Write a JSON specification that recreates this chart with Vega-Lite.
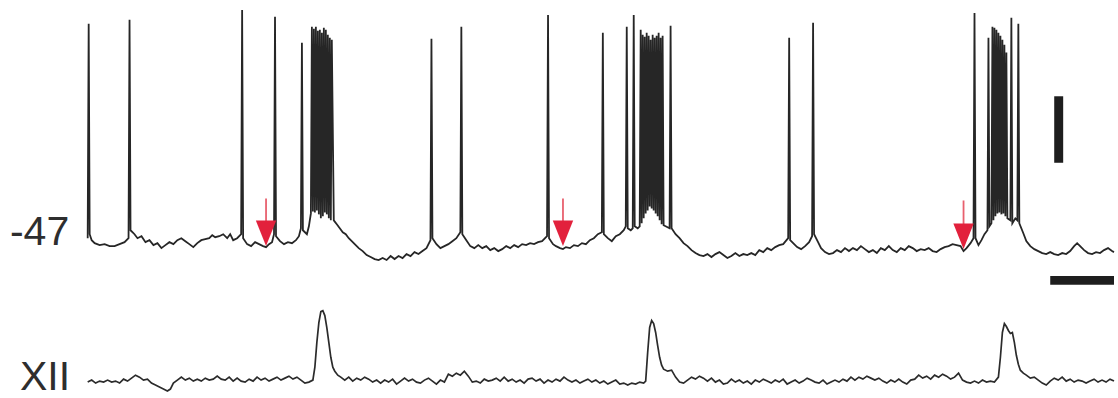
{
"$schema": "https://vega.github.io/schema/vega-lite/v6.json",
"width": 1118, "height": 398, "padding": 0,
"autosize": {"type": "fit", "contains": "padding"},
"background": "white",
"config": {"view": {"stroke": null}},
"datasets": {
"top": [
{"x":88,"y":240},{"x":89,"y":24},{"x":90,"y":236},{"x":92,"y":242},{"x":95,"y":245},{"x":100,"y":247},{"x":105,"y":246},{"x":110,"y":248},{"x":115,"y":248},{"x":120,"y":246},{"x":125,"y":244},{"x":129,"y":240},{"x":130,"y":20},{"x":131,"y":232},{"x":135,"y":236},{"x":138,"y":240},{"x":142,"y":238},{"x":146,"y":244},{"x":150,"y":242},{"x":154,"y":247},{"x":158,"y":245},{"x":162,"y":250},{"x":166,"y":247},{"x":170,"y":244},{"x":174,"y":246},{"x":178,"y":242},{"x":182,"y":240},{"x":186,"y":243},{"x":190,"y":246},{"x":194,"y":249},{"x":198,"y":245},{"x":202,"y":242},{"x":206,"y":241},{"x":210,"y":240},{"x":213,"y":237},{"x":216,"y":239},{"x":220,"y":238},{"x":224,"y":236},{"x":228,"y":240},{"x":231,"y":236},{"x":234,"y":242},{"x":238,"y":240},{"x":242,"y":236},{"x":243,"y":10},{"x":244,"y":240},{"x":248,"y":246},{"x":252,"y":248},{"x":256,"y":244},{"x":260,"y":246},{"x":264,"y":248},{"x":267,"y":249},{"x":270,"y":246},{"x":273,"y":244},{"x":275,"y":236},{"x":276,"y":17},{"x":277,"y":238},{"x":281,"y":243},{"x":285,"y":246},{"x":289,"y":244},{"x":293,"y":245},{"x":297,"y":242},{"x":300,"y":238},{"x":302,"y":230},{"x":303,"y":43},{"x":304,"y":232},{"x":308,"y":236},{"x":310,"y":228},{"x":312,"y":215},{"x":313,"y":27},{"x":314,"y":213},{"x":315,"y":29},{"x":316,"y":214},{"x":317,"y":27},{"x":318,"y":212},{"x":319,"y":31},{"x":320,"y":216},{"x":321,"y":30},{"x":322,"y":220},{"x":323,"y":33},{"x":324,"y":218},{"x":325,"y":28},{"x":326,"y":214},{"x":327,"y":30},{"x":328,"y":216},{"x":329,"y":35},{"x":330,"y":220},{"x":331,"y":38},{"x":332,"y":222},{"x":333,"y":40},{"x":335,"y":222},{"x":338,"y":226},{"x":341,"y":230},{"x":344,"y":234},{"x":347,"y":236},{"x":350,"y":240},{"x":353,"y":243},{"x":356,"y":246},{"x":360,"y":250},{"x":364,"y":253},{"x":368,"y":257},{"x":372,"y":259},{"x":376,"y":261},{"x":380,"y":262},{"x":384,"y":260},{"x":388,"y":262},{"x":392,"y":258},{"x":396,"y":261},{"x":400,"y":258},{"x":404,"y":260},{"x":408,"y":256},{"x":412,"y":258},{"x":416,"y":254},{"x":420,"y":256},{"x":424,"y":253},{"x":428,"y":250},{"x":432,"y":242},{"x":433,"y":39},{"x":434,"y":240},{"x":438,"y":246},{"x":442,"y":250},{"x":446,"y":248},{"x":450,"y":246},{"x":454,"y":243},{"x":458,"y":240},{"x":462,"y":234},{"x":463,"y":27},{"x":464,"y":236},{"x":468,"y":242},{"x":472,"y":248},{"x":476,"y":250},{"x":480,"y":247},{"x":484,"y":250},{"x":488,"y":248},{"x":492,"y":252},{"x":496,"y":250},{"x":500,"y":253},{"x":504,"y":251},{"x":508,"y":248},{"x":512,"y":250},{"x":516,"y":247},{"x":520,"y":249},{"x":524,"y":246},{"x":528,"y":247},{"x":532,"y":245},{"x":536,"y":246},{"x":540,"y":244},{"x":544,"y":243},{"x":549,"y":238},{"x":550,"y":15},{"x":551,"y":240},{"x":555,"y":246},{"x":558,"y":248},{"x":562,"y":250},{"x":565,"y":251},{"x":568,"y":249},{"x":572,"y":250},{"x":576,"y":247},{"x":580,"y":248},{"x":584,"y":245},{"x":588,"y":246},{"x":592,"y":242},{"x":596,"y":240},{"x":600,"y":236},{"x":604,"y":234},{"x":605,"y":33},{"x":606,"y":236},{"x":610,"y":240},{"x":614,"y":243},{"x":618,"y":238},{"x":622,"y":236},{"x":626,"y":232},{"x":628,"y":228},{"x":629,"y":27},{"x":630,"y":230},{"x":633,"y":232},{"x":635,"y":230},{"x":636,"y":15},{"x":637,"y":228},{"x":640,"y":230},{"x":642,"y":228},{"x":643,"y":30},{"x":644,"y":225},{"x":645,"y":35},{"x":646,"y":220},{"x":647,"y":37},{"x":648,"y":215},{"x":649,"y":33},{"x":650,"y":212},{"x":651,"y":36},{"x":652,"y":208},{"x":653,"y":40},{"x":654,"y":210},{"x":655,"y":35},{"x":656,"y":212},{"x":657,"y":38},{"x":658,"y":215},{"x":659,"y":36},{"x":660,"y":218},{"x":661,"y":33},{"x":662,"y":222},{"x":663,"y":38},{"x":664,"y":226},{"x":665,"y":36},{"x":666,"y":227},{"x":668,"y":228},{"x":672,"y":230},{"x":673,"y":26},{"x":674,"y":230},{"x":678,"y":236},{"x":682,"y":240},{"x":686,"y":245},{"x":690,"y":248},{"x":694,"y":252},{"x":698,"y":255},{"x":702,"y":257},{"x":706,"y":258},{"x":710,"y":256},{"x":714,"y":259},{"x":718,"y":256},{"x":722,"y":254},{"x":726,"y":257},{"x":730,"y":260},{"x":734,"y":258},{"x":738,"y":255},{"x":742,"y":258},{"x":746,"y":256},{"x":750,"y":257},{"x":754,"y":255},{"x":758,"y":257},{"x":762,"y":252},{"x":766,"y":254},{"x":770,"y":250},{"x":774,"y":252},{"x":778,"y":249},{"x":782,"y":247},{"x":786,"y":246},{"x":791,"y":240},{"x":792,"y":38},{"x":793,"y":242},{"x":797,"y":246},{"x":800,"y":249},{"x":804,"y":251},{"x":808,"y":248},{"x":812,"y":244},{"x":815,"y":238},{"x":816,"y":23},{"x":817,"y":236},{"x":821,"y":244},{"x":824,"y":250},{"x":828,"y":254},{"x":832,"y":256},{"x":836,"y":255},{"x":840,"y":252},{"x":844,"y":254},{"x":848,"y":250},{"x":852,"y":253},{"x":856,"y":250},{"x":860,"y":252},{"x":864,"y":248},{"x":868,"y":251},{"x":872,"y":254},{"x":876,"y":252},{"x":880,"y":255},{"x":884,"y":250},{"x":888,"y":252},{"x":892,"y":248},{"x":896,"y":252},{"x":900,"y":254},{"x":904,"y":250},{"x":908,"y":252},{"x":912,"y":248},{"x":916,"y":250},{"x":920,"y":253},{"x":924,"y":251},{"x":928,"y":252},{"x":932,"y":250},{"x":936,"y":253},{"x":940,"y":254},{"x":944,"y":251},{"x":948,"y":249},{"x":952,"y":248},{"x":956,"y":246},{"x":960,"y":247},{"x":964,"y":248},{"x":967,"y":253},{"x":970,"y":250},{"x":974,"y":245},{"x":977,"y":240},{"x":978,"y":13},{"x":979,"y":240},{"x":982,"y":247},{"x":985,"y":242},{"x":988,"y":236},{"x":991,"y":232},{"x":992,"y":38},{"x":993,"y":228},{"x":995,"y":225},{"x":996,"y":27},{"x":997,"y":222},{"x":998,"y":28},{"x":999,"y":218},{"x":1000,"y":30},{"x":1001,"y":215},{"x":1002,"y":33},{"x":1003,"y":214},{"x":1004,"y":36},{"x":1005,"y":216},{"x":1006,"y":40},{"x":1007,"y":215},{"x":1008,"y":45},{"x":1009,"y":218},{"x":1010,"y":53},{"x":1011,"y":220},{"x":1014,"y":222},{"x":1015,"y":18},{"x":1016,"y":225},{"x":1019,"y":220},{"x":1021,"y":222},{"x":1022,"y":24},{"x":1023,"y":225},{"x":1027,"y":235},{"x":1030,"y":243},{"x":1034,"y":248},{"x":1038,"y":251},{"x":1042,"y":253},{"x":1046,"y":255},{"x":1050,"y":256},{"x":1054,"y":254},{"x":1058,"y":256},{"x":1062,"y":257},{"x":1066,"y":255},{"x":1070,"y":256},{"x":1074,"y":253},{"x":1078,"y":248},{"x":1081,"y":245},{"x":1084,"y":248},{"x":1088,"y":252},{"x":1092,"y":255},{"x":1096,"y":256},{"x":1100,"y":254},{"x":1104,"y":255},{"x":1108,"y":252},{"x":1112,"y":250},{"x":1116,"y":253},{"x":1118,"y":254}
],
"bottom": [
{"x":88,"y":385},{"x":92,"y":383},{"x":96,"y":386},{"x":100,"y":384},{"x":104,"y":385},{"x":108,"y":383},{"x":112,"y":385},{"x":116,"y":384},{"x":120,"y":386},{"x":124,"y":382},{"x":128,"y":384},{"x":132,"y":381},{"x":136,"y":378},{"x":140,"y":380},{"x":144,"y":383},{"x":148,"y":382},{"x":152,"y":386},{"x":156,"y":388},{"x":160,"y":390},{"x":164,"y":392},{"x":168,"y":394},{"x":171,"y":392},{"x":174,"y":386},{"x":178,"y":383},{"x":182,"y":380},{"x":186,"y":383},{"x":190,"y":381},{"x":194,"y":384},{"x":198,"y":382},{"x":202,"y":384},{"x":206,"y":381},{"x":210,"y":383},{"x":214,"y":382},{"x":218,"y":379},{"x":222,"y":382},{"x":226,"y":383},{"x":230,"y":380},{"x":234,"y":384},{"x":238,"y":381},{"x":242,"y":384},{"x":246,"y":385},{"x":250,"y":382},{"x":254,"y":384},{"x":258,"y":380},{"x":262,"y":383},{"x":266,"y":381},{"x":270,"y":384},{"x":274,"y":382},{"x":278,"y":380},{"x":282,"y":383},{"x":286,"y":381},{"x":290,"y":379},{"x":294,"y":382},{"x":298,"y":380},{"x":302,"y":383},{"x":306,"y":386},{"x":310,"y":385},{"x":314,"y":383},{"x":316,"y":370},{"x":318,"y":345},{"x":320,"y":325},{"x":322,"y":314},{"x":324,"y":313},{"x":326,"y":318},{"x":328,"y":330},{"x":330,"y":345},{"x":332,"y":360},{"x":334,"y":370},{"x":336,"y":374},{"x":339,"y":378},{"x":342,"y":380},{"x":346,"y":383},{"x":350,"y":380},{"x":354,"y":384},{"x":358,"y":381},{"x":362,"y":383},{"x":366,"y":380},{"x":370,"y":382},{"x":374,"y":385},{"x":378,"y":383},{"x":382,"y":386},{"x":386,"y":383},{"x":390,"y":385},{"x":394,"y":382},{"x":398,"y":387},{"x":402,"y":384},{"x":406,"y":381},{"x":410,"y":384},{"x":414,"y":382},{"x":418,"y":385},{"x":422,"y":386},{"x":426,"y":383},{"x":430,"y":381},{"x":434,"y":384},{"x":438,"y":387},{"x":442,"y":383},{"x":446,"y":385},{"x":450,"y":377},{"x":454,"y":379},{"x":458,"y":376},{"x":462,"y":378},{"x":466,"y":374},{"x":470,"y":379},{"x":474,"y":385},{"x":478,"y":384},{"x":482,"y":386},{"x":486,"y":382},{"x":490,"y":384},{"x":494,"y":383},{"x":498,"y":381},{"x":502,"y":384},{"x":506,"y":380},{"x":510,"y":384},{"x":514,"y":382},{"x":518,"y":385},{"x":522,"y":383},{"x":526,"y":386},{"x":530,"y":382},{"x":534,"y":381},{"x":538,"y":384},{"x":542,"y":382},{"x":546,"y":386},{"x":550,"y":383},{"x":554,"y":385},{"x":558,"y":382},{"x":562,"y":384},{"x":566,"y":380},{"x":570,"y":383},{"x":574,"y":385},{"x":578,"y":383},{"x":582,"y":386},{"x":586,"y":384},{"x":590,"y":382},{"x":594,"y":385},{"x":598,"y":383},{"x":602,"y":386},{"x":606,"y":384},{"x":610,"y":387},{"x":614,"y":385},{"x":618,"y":383},{"x":622,"y":387},{"x":626,"y":386},{"x":630,"y":388},{"x":634,"y":386},{"x":638,"y":387},{"x":642,"y":385},{"x":646,"y":386},{"x":648,"y":384},{"x":650,"y":355},{"x":652,"y":330},{"x":654,"y":323},{"x":656,"y":326},{"x":658,"y":335},{"x":660,"y":348},{"x":662,"y":360},{"x":664,"y":368},{"x":666,"y":372},{"x":670,"y":374},{"x":674,"y":373},{"x":678,"y":380},{"x":682,"y":385},{"x":686,"y":386},{"x":690,"y":383},{"x":694,"y":380},{"x":698,"y":382},{"x":702,"y":379},{"x":706,"y":381},{"x":710,"y":384},{"x":714,"y":381},{"x":718,"y":385},{"x":722,"y":383},{"x":726,"y":387},{"x":730,"y":386},{"x":734,"y":382},{"x":738,"y":385},{"x":742,"y":383},{"x":746,"y":386},{"x":750,"y":384},{"x":754,"y":387},{"x":758,"y":383},{"x":762,"y":385},{"x":766,"y":382},{"x":770,"y":384},{"x":774,"y":386},{"x":778,"y":383},{"x":782,"y":385},{"x":786,"y":382},{"x":790,"y":387},{"x":794,"y":385},{"x":798,"y":383},{"x":802,"y":386},{"x":806,"y":384},{"x":810,"y":381},{"x":814,"y":383},{"x":818,"y":385},{"x":822,"y":386},{"x":826,"y":383},{"x":830,"y":387},{"x":834,"y":385},{"x":838,"y":383},{"x":842,"y":385},{"x":846,"y":382},{"x":850,"y":384},{"x":854,"y":380},{"x":858,"y":383},{"x":862,"y":380},{"x":866,"y":382},{"x":870,"y":379},{"x":874,"y":381},{"x":878,"y":383},{"x":882,"y":381},{"x":886,"y":384},{"x":890,"y":386},{"x":894,"y":383},{"x":898,"y":385},{"x":902,"y":382},{"x":906,"y":385},{"x":910,"y":387},{"x":914,"y":383},{"x":918,"y":382},{"x":922,"y":378},{"x":926,"y":381},{"x":930,"y":379},{"x":934,"y":382},{"x":938,"y":378},{"x":942,"y":380},{"x":946,"y":377},{"x":950,"y":379},{"x":954,"y":382},{"x":958,"y":380},{"x":962,"y":376},{"x":966,"y":383},{"x":970,"y":385},{"x":974,"y":386},{"x":978,"y":384},{"x":982,"y":386},{"x":986,"y":383},{"x":990,"y":385},{"x":994,"y":384},{"x":998,"y":385},{"x":1002,"y":380},{"x":1004,"y":360},{"x":1006,"y":335},{"x":1008,"y":326},{"x":1010,"y":329},{"x":1012,"y":333},{"x":1014,"y":336},{"x":1016,"y":335},{"x":1018,"y":345},{"x":1020,"y":358},{"x":1022,"y":367},{"x":1024,"y":373},{"x":1027,"y":376},{"x":1030,"y":378},{"x":1034,"y":381},{"x":1038,"y":380},{"x":1042,"y":383},{"x":1046,"y":386},{"x":1050,"y":388},{"x":1054,"y":384},{"x":1058,"y":381},{"x":1062,"y":383},{"x":1066,"y":380},{"x":1070,"y":384},{"x":1074,"y":382},{"x":1078,"y":385},{"x":1082,"y":383},{"x":1086,"y":384},{"x":1090,"y":386},{"x":1094,"y":384},{"x":1098,"y":382},{"x":1102,"y":385},{"x":1106,"y":383},{"x":1110,"y":385},{"x":1114,"y":382},{"x":1118,"y":384}
],
"arrows": [
{"x":267,"ytop":200,"ybot":226,"yhead":235},
{"x":565,"ytop":200,"ybot":226,"yhead":235},
{"x":967,"ytop":202,"ybot":228,"yhead":238}
],
"bars": [
{"x":1058,"x2":1067,"y":97,"y2":164},
{"x":1054,"x2":1118,"y":278,"y2":287}
],
"labels": [
{"x":10,"y":247,"text":"-47"},
{"x":20,"y":393,"text":"XII"}
]
},
"layer": [
{"data":{"name":"top"},"mark":{"type":"line","color":"#262626","strokeWidth":1.8,"interpolate":"linear"},
 "encoding":{"x":{"field":"x","type":"quantitative","scale":{"domain":[0,1118],"nice":false,"zero":false},"axis":null},
 "y":{"field":"y","type":"quantitative","scale":{"domain":[0,398],"nice":false,"zero":false,"reverse":true},"axis":null}}},
{"data":{"name":"bottom"},"mark":{"type":"line","color":"#2b2b2b","strokeWidth":1.7},
 "encoding":{"x":{"field":"x","type":"quantitative"},"y":{"field":"y","type":"quantitative"}}},
{"data":{"name":"bars"},"mark":{"type":"rect","color":"#1e1e1e"},
 "encoding":{"x":{"field":"x","type":"quantitative"},"x2":{"field":"x2"},"y":{"field":"y","type":"quantitative"},"y2":{"field":"y2"}}},
{"data":{"name":"arrows"},"mark":{"type":"rule","color":"#e8606e","strokeWidth":1.8},
 "encoding":{"x":{"field":"x","type":"quantitative"},"y":{"field":"ytop","type":"quantitative"},"y2":{"field":"ybot"}}},
{"data":{"name":"arrows"},"mark":{"type":"point","shape":"M-0.8,-1L0.8,-1L0,1Z","filled":true,"color":"#e2213c","opacity":1,"size":650},
 "encoding":{"x":{"field":"x","type":"quantitative"},"y":{"field":"yhead","type":"quantitative"}}},
{"data":{"name":"labels"},"mark":{"type":"text","align":"left","baseline":"alphabetic","font":"Liberation Sans","fontSize":41,"color":"#2e2e2e"},
 "encoding":{"x":{"field":"x","type":"quantitative"},"y":{"field":"y","type":"quantitative"},"text":{"field":"text"}}}
]
}
